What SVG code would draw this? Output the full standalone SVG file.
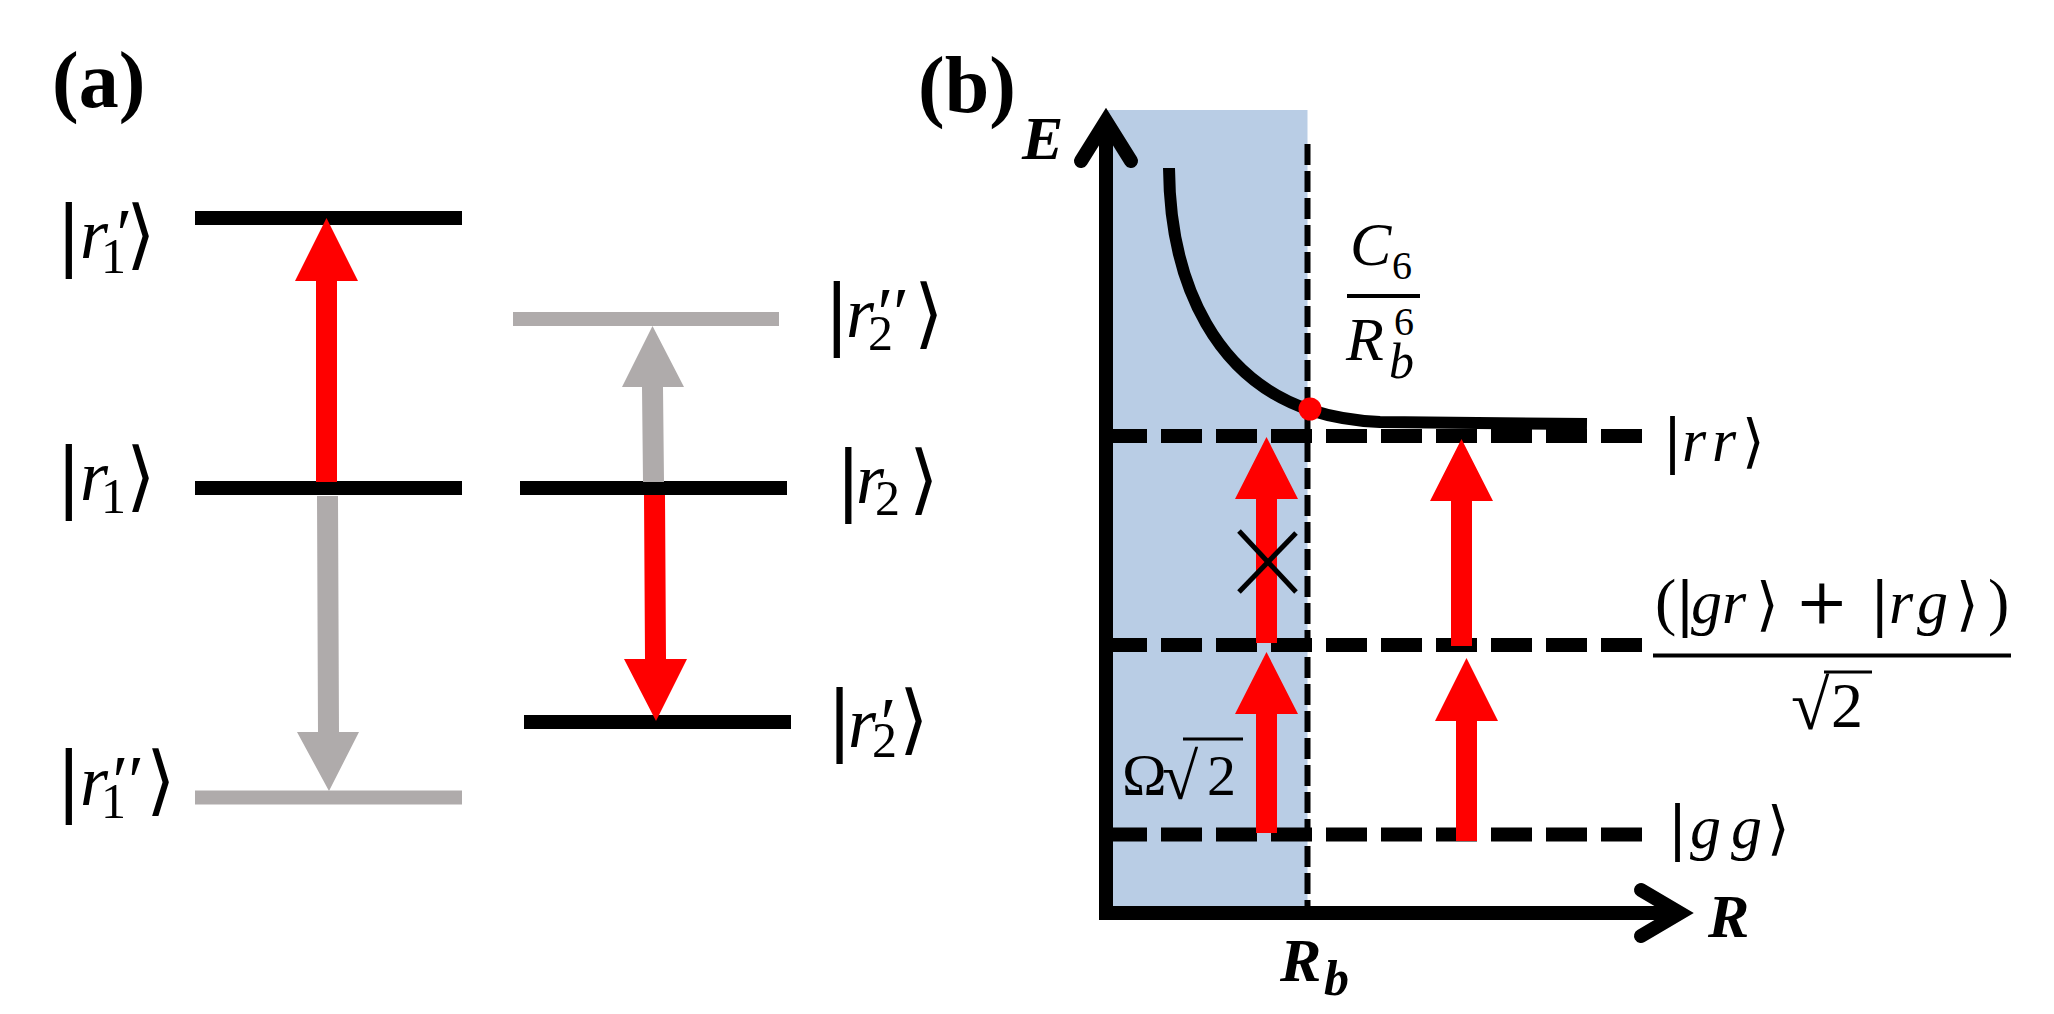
<svg xmlns="http://www.w3.org/2000/svg" width="2054" height="1014" viewBox="0 0 2054 1014">
<style>
text{font-family:"Liberation Serif",serif;fill:#000}
.lbl{font-weight:bold;font-size:80px}
.bk{font-family:"DejaVu Sans",sans-serif;font-style:normal}
.bA{font-size:76px}
.bB{font-size:58px}
.vA{font-style:italic;font-size:72px}
.vB{font-style:italic;font-size:62px}
.sA{font-size:50px}
.sB{font-size:40px}
.bi{font-weight:bold;font-style:italic}
.lk{stroke:#000;stroke-width:14}
.lg{stroke:#AFABAB;stroke-width:14}
.dh{stroke:#000;stroke-width:14;stroke-dasharray:41 14;fill:none}
.ax{stroke:#000;stroke-width:14;fill:none}
.ah{stroke:#000;stroke-width:14;fill:none;stroke-linecap:round;stroke-linejoin:miter}
.red{fill:#FF0000}
.gray{fill:#AFABAB}
.thin{stroke:#000;stroke-width:4}
</style>
<rect width="2054" height="1014" fill="#fff"/>

<!-- Panel (a) -->
<text class="lbl" x="52" y="107">(a)</text>

<g id="levels-a">
  <g id="r1p"><line class="lk" x1="195" y1="218" x2="462" y2="218"/>
    <text><tspan class="bk bA" x="56" y="260">|</tspan><tspan class="vA" x="80" y="258">r</tspan><tspan class="sA" x="101" y="273">1</tspan><tspan class="vA" x="112" y="258">′</tspan><tspan class="bk bA" x="126" y="260">⟩</tspan></text></g>
  <g id="r1"><line class="lk" x1="195" y1="488" x2="462" y2="488"/>
    <text><tspan class="bk bA" x="56" y="502">|</tspan><tspan class="vA" x="80" y="500">r</tspan><tspan class="sA" x="101" y="513">1</tspan><tspan class="bk bA" x="126" y="502">⟩</tspan></text></g>
  <g id="r1pp"><line class="lg" x1="195" y1="797.5" x2="462" y2="797.5"/>
    <text><tspan class="bk bA" x="56" y="806">|</tspan><tspan class="vA" x="80" y="805">r</tspan><tspan class="sA" x="101" y="818">1</tspan><tspan class="vA" x="108" y="805">′′</tspan><tspan class="bk bA" x="146" y="806">⟩</tspan></text></g>
  <g id="r2pp"><line class="lg" x1="513" y1="319" x2="779" y2="319"/>
    <text><tspan class="bk bA" x="824" y="339">|</tspan><tspan class="vA" x="846" y="337">r</tspan><tspan class="sA" x="868" y="350">2</tspan><tspan class="vA" x="873" y="337">′′</tspan><tspan class="bk bA" x="914" y="339">⟩</tspan></text></g>
  <g id="r2"><line class="lk" x1="520" y1="488" x2="787" y2="488"/>
    <text><tspan class="bk bA" x="835.5" y="505">|</tspan><tspan class="vA" x="856" y="503">r</tspan><tspan class="sA" x="875" y="515">2</tspan><tspan class="bk bA" x="909" y="505">⟩</tspan></text></g>
  <g id="r2p"><line class="lk" x1="524" y1="722" x2="791" y2="722"/>
    <text><tspan class="bk bA" x="826.7" y="745">|</tspan><tspan class="vA" x="848" y="747">r</tspan><tspan class="sA" x="872" y="757">2</tspan><tspan class="vA" x="876" y="747">′</tspan><tspan class="bk bA" x="899" y="745">⟩</tspan></text></g>
</g>

<g id="connectors-a">
  <polygon class="red" points="316,482 316,281 295,281 326.5,218 358,281 337,281 337,482"/>
  <polygon class="gray" points="317,496 338,496 339,732 359,732 329,791 297,732 318,732"/>
  <polygon class="gray" points="643,482 642,387 622,387 652.5,326 684,387 663,387 664,482"/>
  <polygon class="red" points="644,495 665,495 666,659 687,659 656,721 624,659 645,659"/>
</g>

<!-- Panel (b) -->
<text class="lbl" x="918" y="112">(b)</text>

<g id="region">
  <rect x="1106" y="110" width="201.5" height="803" fill="#B9CDE5"/>
  <line x1="1307.5" y1="144" x2="1307.5" y2="907" stroke="#000" stroke-width="6" stroke-dasharray="21 6"/>
</g>

<g id="levels-b">
  <g id="rr"><line class="dh" x1="1106" y1="436" x2="1642" y2="436"/>
    <text><tspan class="bk bB" x="1662.8" y="461">|</tspan><tspan class="vB" x="1682" y="461">r</tspan><tspan class="vB" x="1712" y="461">r</tspan><tspan class="bk bB" x="1742" y="461">⟩</tspan></text></g>
  <g id="grrg"><line class="dh" x1="1106" y1="645" x2="1642" y2="645"/>
    <text><tspan x="1655" y="623" font-size="64">(</tspan><tspan class="bk bB" x="1675.3" y="624">|</tspan><tspan class="vB" x="1691" y="623">g</tspan><tspan class="vB" x="1722" y="623">r</tspan><tspan class="bk bB" x="1756" y="624">⟩</tspan><tspan x="1795" y="623" font-size="64" font-family="DejaVu Serif, serif">+</tspan><tspan class="bk bB" x="1870" y="624">|</tspan><tspan class="vB" x="1889" y="623">r</tspan><tspan class="vB" x="1917" y="623">g</tspan><tspan class="bk bB" x="1956" y="624">⟩</tspan><tspan x="1988" y="623" font-size="64">)</tspan></text>
    <line class="thin" x1="1653" y1="655.5" x2="2011" y2="655.5"/>
    <text><tspan x="1791" y="729" font-size="70">√</tspan><tspan x="1831" y="727" font-size="64">2</tspan></text>
    <line stroke="#000" stroke-width="3" x1="1824" y1="672" x2="1872" y2="672"/></g>
  <g id="gg"><line class="dh" x1="1106" y1="834.5" x2="1642" y2="834.5"/>
    <text><tspan class="bk bB" x="1667.8" y="848">|</tspan><tspan class="vB" x="1690" y="848">g</tspan><tspan class="vB" x="1731" y="848">g</tspan><tspan class="bk bB" x="1767" y="848">⟩</tspan></text></g>
</g>

<g id="potential">
  <path d="M1169,168 C1170,290 1220,380 1310,410 C1335,418 1355,421 1380,422 L1587,424" fill="none" stroke="#000" stroke-width="12"/>
  <circle cx="1310" cy="409" r="11.5" fill="#FF0000"/>
  <text><tspan class="vB" x="1350" y="265" font-size="58">C</tspan><tspan class="sB" x="1392" y="279">6</tspan></text>
  <line class="thin" x1="1347" y1="296" x2="1420" y2="296"/>
  <text><tspan class="vB" x="1346" y="360" font-size="66">R</tspan><tspan class="sB" x="1394" y="335">6</tspan><tspan class="sA" font-style="italic" x="1389" y="378">b</tspan></text>
</g>

<g id="connectors-b">
  <polygon class="red" points="1256,643 1256,499 1235,499 1266.5,437 1298,499 1277,499 1277,643"/>
  <polygon class="red" points="1256,833 1256,714 1235,714 1266.5,652 1298,714 1277,714 1277,833"/>
  <polygon class="red" points="1451,646 1451,501 1430,501 1461.5,439 1493,501 1472,501 1472,646"/>
  <polygon class="red" points="1456,841 1456,721 1435,721 1466.5,658 1498,721 1477,721 1477,841"/>
  <line x1="1239" y1="531" x2="1296" y2="592" stroke="#000" stroke-width="5"/>
  <line x1="1239" y1="592" x2="1296" y2="533" stroke="#000" stroke-width="5"/>
</g>

<g id="rabi">
  <text><tspan x="1122" y="795" font-size="60">Ω</tspan><tspan x="1162" y="799" font-size="66">√</tspan><tspan x="1207" y="795" font-size="58">2</tspan></text>
  <line stroke="#000" stroke-width="3" x1="1183" y1="739" x2="1243" y2="739"/>
</g>

<g id="axes">
  <path class="ax" d="M1106,121 L1106,913 L1680,913"/>
  <polyline class="ah" points="1081,161 1106,121 1131,161"/>
  <polyline class="ah" points="1641,890 1680,913 1641,936"/>
  <text class="bi" x="1022" y="159" font-size="62">E</text>
  <text class="bi" x="1708" y="937" font-size="62">R</text>
  <text class="bi"><tspan x="1280" y="981" font-size="62">R</tspan><tspan x="1324" y="995" font-size="50">b</tspan></text>
</g>
</svg>
